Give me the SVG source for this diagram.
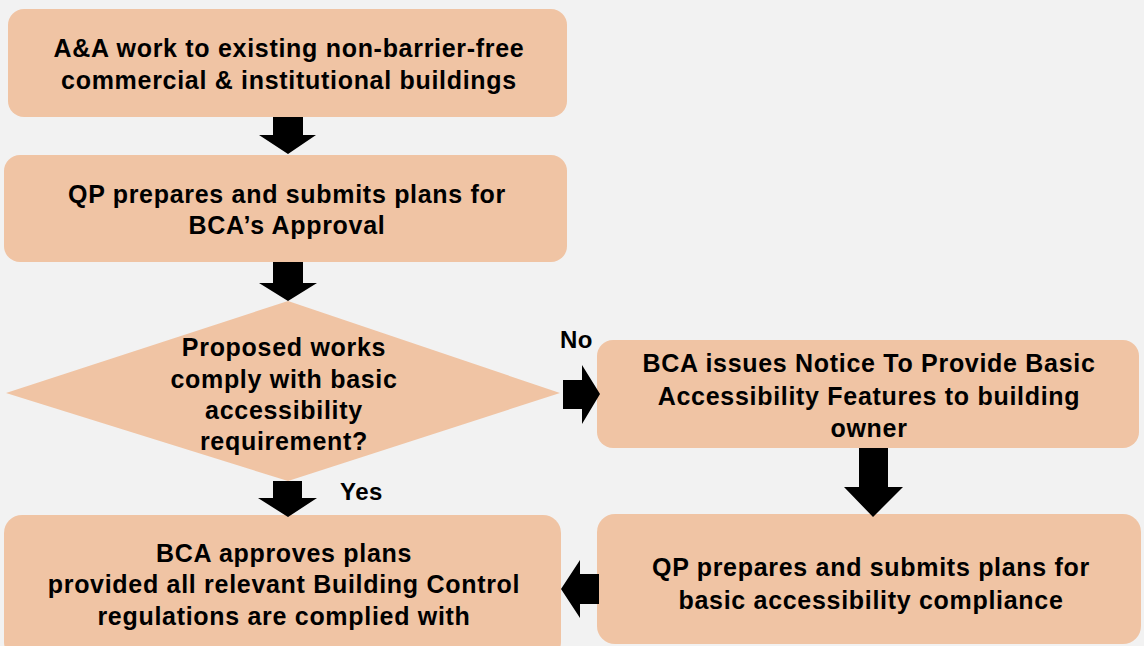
<svg xmlns="http://www.w3.org/2000/svg" width="1144" height="646" viewBox="0 0 1144 646">
<defs>
<style>
.box{fill:#f0c4a4;}
.t{font-family:"Liberation Sans",Arial,sans-serif;font-weight:bold;font-size:25px;letter-spacing:0.7px;fill:#000;text-anchor:middle;}
.lbl{font-family:"Liberation Sans",Arial,sans-serif;font-weight:bold;font-size:24px;letter-spacing:0.5px;fill:#000;}
.arr{fill:#000;}
</style>
</defs>
<rect width="1144" height="646" fill="#f2f2f2"/>
<g id="n1">
<rect class="box" x="8" y="9" width="559" height="108" rx="16"/>
<text class="t" x="289" y="57">A&amp;A work to existing non-barrier-free</text>
<text class="t" x="289" y="89">commercial &amp; institutional buildings</text>
</g>
<g id="n2">
<rect class="box" x="4" y="155" width="563" height="107" rx="16"/>
<text class="t" x="287" y="203">QP prepares and submits plans for</text>
<text class="t" x="287" y="234">BCA’s Approval</text>
</g>
<g id="n3">
<polygon class="box" points="288,301 560,393 288,481 6,393"/>
<text class="t" x="284" y="356">Proposed works</text>
<text class="t" x="284" y="388">comply with basic</text>
<text class="t" x="284" y="419">accessibility</text>
<text class="t" x="284" y="450">requirement?</text>
</g>
<g id="n4">
<rect class="box" x="597" y="340" width="542" height="108" rx="16"/>
<text class="t" x="869" y="372">BCA issues Notice To Provide Basic</text>
<text class="t" x="869" y="405">Accessibility Features to building</text>
<text class="t" x="869" y="437">owner</text>
</g>
<g id="n5">
<rect class="box" x="4" y="515" width="557" height="145" rx="18"/>
<text class="t" x="284" y="562">BCA approves plans</text>
<text class="t" x="284" y="593">provided all relevant Building Control</text>
<text class="t" x="284" y="625">regulations are complied with</text>
</g>
<g id="n6">
<rect class="box" x="597" y="514" width="544" height="130" rx="18"/>
<text class="t" x="871" y="576">QP prepares and submits plans for</text>
<text class="t" x="871" y="609">basic accessibility compliance</text>
</g>
<g id="connectors">
<polygon class="arr" points="273,117 303,117 303,135 316,135 288,154 259,135 273,135"/>
<polygon class="arr" points="273,262 303,262 303,283 317,283 288,301 259,283 273,283"/>
<polygon class="arr" points="273,481 302,481 302,498 317,498 288,517 258,498 273,498"/>
<polygon class="arr" points="563,380 582,380 582,365 600,394 582,424 582,409 563,409"/>
<polygon class="arr" points="859,448 888,448 888,487 903,487 873,517 844,487 859,487"/>
<polygon class="arr" points="599,574 580,574 580,560 561,589 580,618 580,604 599,604"/>
<text class="lbl" x="560" y="348">No</text>
<text class="lbl" x="340" y="500">Yes</text>
</g>
</svg>
